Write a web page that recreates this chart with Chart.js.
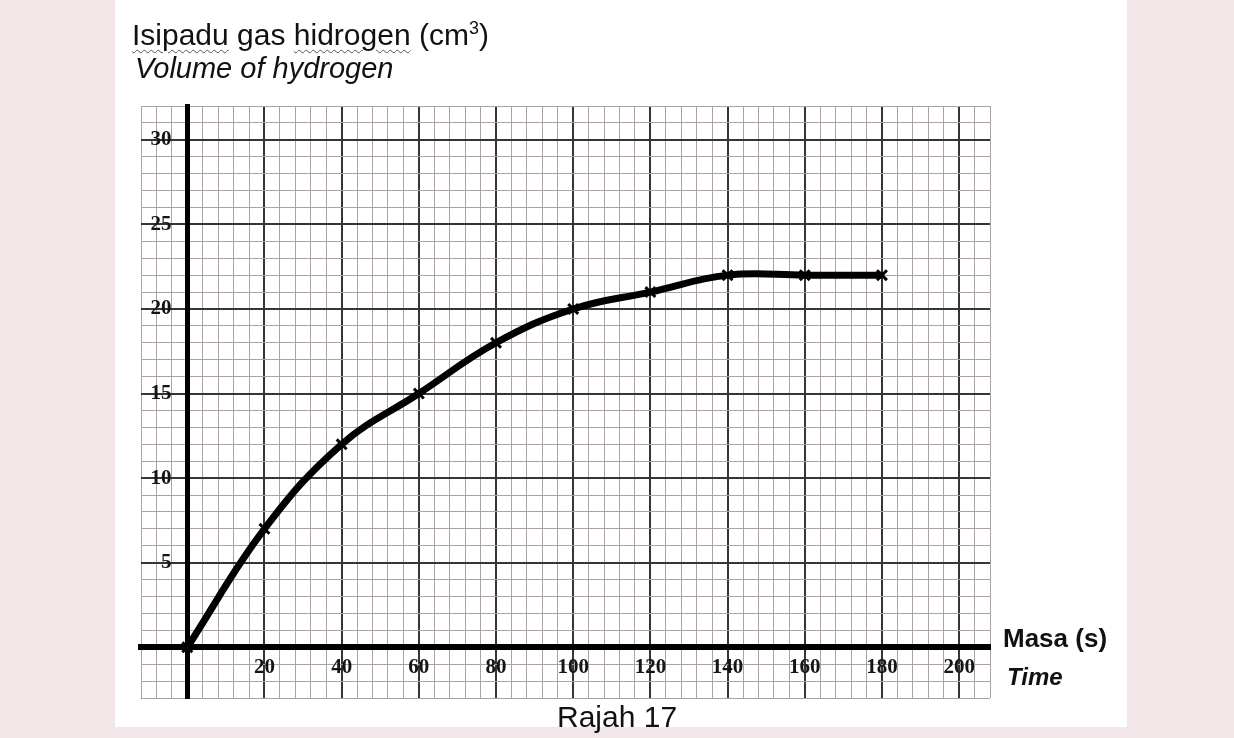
<!DOCTYPE html>
<html>
<head>
<meta charset="utf-8">
<script src="https://cdn.jsdelivr.net/npm/chart.js@4/dist/chart.umd.min.js"></script>
<style>
  html,body{margin:0;padding:0;width:1234px;height:738px;overflow:hidden;background:#f2e6e9;font-family:"Liberation Sans",Arial,sans-serif;color:#111}
  #paper{position:absolute;left:115px;top:0;width:1012px;height:727px;background:#fff}
  #c{position:absolute;left:0;top:0}
  .t{position:absolute;white-space:nowrap}
  .sq{text-decoration:underline wavy #555;text-decoration-thickness:1px;text-underline-offset:4px}
</style>
</head>
<body>
<div id="paper"></div>
<canvas id="c" width="1234" height="738"></canvas>
<div class="t" style="left:132px;top:18px;font-size:30px"><span class="sq">Isipadu</span> gas <span class="sq">hidrogen</span> (cm<sup style="font-size:18px">3</sup>)</div>
<div class="t" style="left:135px;top:52px;font-size:29px;font-style:italic">Volume of hydrogen</div>
<div class="t" style="left:1003px;top:623px;font-size:26px;font-weight:bold">Masa (s)</div>
<div class="t" style="left:1007px;top:663px;font-size:24px;font-style:italic;font-weight:bold">Time</div>
<div class="t" style="left:557px;top:700px;font-size:30px">Rajah 17</div>
<script>
// masa (s) vs isipadu gas (cm3)
const times = [0,20,40,60,80,100,120,140,160,180]
const volumes = [0,7,12,15,18,20,21,22,22,22]
const xLabels = [20,40,60,80,100,120,140,160,180,200]
const yLabels = [5,10,15,20,25,30]

const tickFont = {family:'"Liberation Serif","DejaVu Serif",serif',size:21,weight:'bold'}
const minor = '#aaa2a4', major = '#363434'

new Chart(document.getElementById('c'),{
  type:'line',
  data:{datasets:[{
    data:times.map((t,i)=>({x:t,y:volumes[i]})),
    borderColor:'#000',borderWidth:7,
    tension:0.4,
    pointStyle:'crossRot',pointRadius:7,pointBorderWidth:3,
    pointBorderColor:'#000',pointBackgroundColor:'#000'
  }]},
  options:{
    responsive:false,animation:false,devicePixelRatio:1,
    layout:{padding:{left:141,top:106,right:244,bottom:40}},
    plugins:{legend:{display:false},tooltip:{enabled:false}},
    scales:{
      x:{type:'linear',position:{y:0},min:-12,max:208,
        ticks:{stepSize:4,autoSkip:false,maxRotation:0,padding:8,color:'#151515',font:tickFont,
          callback:v=>xLabels.includes(v)?String(v):''},
        grid:{drawTicks:false,color:c=>c.tick&&c.tick.value%20===0?major:minor,
          lineWidth:c=>c.tick&&c.tick.value%20===0?2:1},
        border:{color:'#000',width:6}},
      y:{type:'linear',position:{x:0},min:-3,max:32,
        ticks:{stepSize:1,autoSkip:false,color:'#151515',font:tickFont,
          // positioned axis ignores padding, so pad with spaces
          callback:v=>yLabels.includes(v)?String(v)+'   ':''},
        grid:{drawTicks:false,color:c=>c.tick&&c.tick.value%5===0?major:minor,
          lineWidth:c=>c.tick&&c.tick.value%5===0?2:1},
        border:{color:'#000',width:5}}
    }
  }
})
</script>
</body>
</html>
